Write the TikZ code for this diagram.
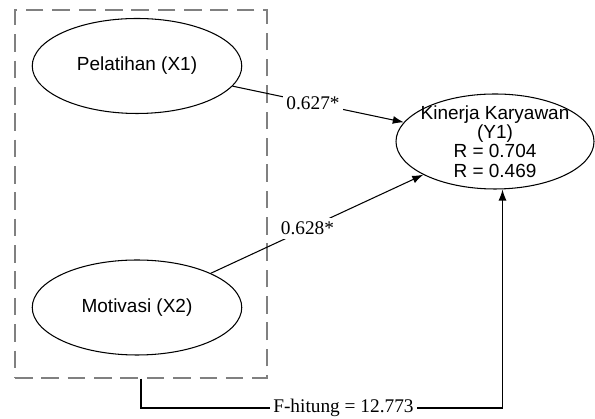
\documentclass[tikz,border=0pt]{standalone}
\usepackage{fontspec}
\setmainfont{Liberation Serif}
\newfontfamily\arialfont{Liberation Sans}
\usepackage{tikz}
\usetikzlibrary{arrows.meta,positioning,calc,shapes.geometric}
\tikzset{
  construct/.style={draw, ellipse, line width=0.6pt, align=center, font=\arialfont\fontsize{10.8}{10.9}\selectfont, minimum width=4.19cm, minimum height=1.9cm},
  pathmsg/.style={-{Latex[length=2.2mm,width=1.6mm]}, line width=0.6pt},
  coeflabel/.style={fill=white, font=\fontsize{11}{13}\selectfont, inner sep=2pt},
  groupbox/.style={draw=gray, dash pattern=on 10pt off 5pt, line width=0.6pt, minimum width=5.04cm, minimum height=7.36cm}
}

\begin{document}
\begin{tikzpicture}
\useasboundingbox (0,0) rectangle (11.9,8.38);
\node[groupbox] (group) at (2.82,4.5) {};
\node[construct] (pelatihan) at (2.74,7.06) {Pelatihan (X1)};
\node[construct] (motivasi) at (2.74,2.23) {Motivasi (X2)};
\node[construct, minimum width=3.96cm, inner xsep=-4.5pt, inner ysep=-1.5pt] (kinerja) at (9.9,5.55) {Kinerja Karyawan\\(Y1)\\R = 0.704\\R = 0.469};
\coordinate (fcorner) at (10.05,0.22);
\draw[pathmsg] (pelatihan) -- node[coeflabel, pos=0.47] {0.627*} (kinerja);
\draw[pathmsg] (motivasi) -- node[coeflabel, pos=0.455] {0.628*} (kinerja);
\draw[pathmsg] (group.south) |- node[coeflabel, pos=0.78] {F-hitung = 12.773} (fcorner) -- (fcorner |- kinerja.south);
\end{tikzpicture}
\end{document}
